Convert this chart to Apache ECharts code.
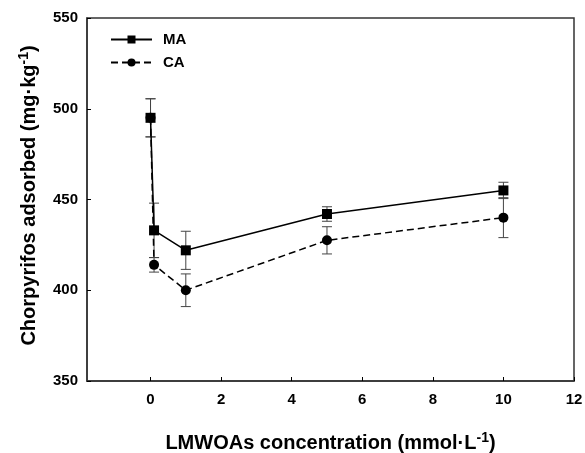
<!DOCTYPE html>
<html><head><meta charset="utf-8">
<script src="https://cdn.jsdelivr.net/npm/echarts@6/dist/echarts.min.js"></script>
<style>html,body{margin:0;padding:0;background:#fff}#c{width:585px;height:453px}</style>
</head><body><div id="c"></div>
<script>
const xValues = [0, 0.1, 1, 5, 10];
const maValues = [495, 433, 422, 442, 455];
const maErrors = [10.5, 15, 10.5, 4, 4.5];
const caValues = [495, 414, 400, 427.5, 440];
const caErrors = [10.5, 4, 9, 7.5, 11];
const xTicks = [0, 2, 4, 6, 8, 10, 12];
const yTicks = [350, 400, 450, 500, 550];

const font = '"Liberation Sans", Arial, sans-serif';
const chart = echarts.init(document.getElementById('c'));

function pairs(xs, ys) { return xs.map((x, i) => [x, ys[i]]); }
function errData(xs, ys, es) { return xs.map((x, i) => [x, ys[i] - es[i], ys[i] + es[i]]); }
function errSeries(data) {
  return {
    type: 'custom', silent: true, z: 1,
    renderItem: function (params, api) {
      const x = api.value(0);
      const lo = api.coord([x, api.value(1)]);
      const hi = api.coord([x, api.value(2)]);
      const w = 5;
      const st = { stroke: '#444', lineWidth: 1 };
      return { type: 'group', children: [
        { type: 'line', shape: { x1: hi[0], y1: hi[1], x2: lo[0], y2: lo[1] }, style: st },
        { type: 'line', shape: { x1: hi[0] - w, y1: hi[1], x2: hi[0] + w, y2: hi[1] }, style: st },
        { type: 'line', shape: { x1: lo[0] - w, y1: lo[1], x2: lo[0] + w, y2: lo[1] }, style: st }
      ]};
    },
    encode: { x: 0, y: [1, 2] },
    data: data
  };
}

const richName = {
  a: { fontFamily: font, fontWeight: 'bold', fontSize: 20, color: '#000' },
  s: { fontFamily: font, fontWeight: 'bold', fontSize: 14, color: '#000', verticalAlign: 'top', padding: [0, 0, 10, 0] }
};

chart.setOption({
  animation: false,
  grid: { left: 87, right: 11, top: 18, bottom: 72, show: true, borderColor: '#333', borderWidth: 1.5,
          containLabel: false, outerBoundsMode: 'none' },
  legend: {
    orient: 'vertical', left: 105, top: 27, itemWidth: 41, itemHeight: 10, itemGap: 8,
    textStyle: { fontFamily: font, fontWeight: 'bold', fontSize: 15, color: '#000', padding: [0, 0, 0, 6] },
    data: ['MA', 'CA']
  },
  xAxis: {
    type: 'value', min: -1.8, max: 12,
    axisLine: { show: true, onZero: false, lineStyle: { color: '#333', width: 1.5 } },
    axisTick: { show: true, inside: true, length: 4, customValues: xTicks, lineStyle: { color: '#000' } },
    axisLabel: { customValues: xTicks, margin: 11, fontFamily: font, fontWeight: 'bold', fontSize: 15, color: '#000' },
    splitLine: { show: false },
    name: '{a|LMWOAs concentration (mmol·L}{s|-1}{a|)}',
    nameLocation: 'middle', nameGap: 50,
    nameTextStyle: { rich: richName }
  },
  yAxis: {
    type: 'value', min: 350, max: 550, interval: 50,
    axisLine: { show: true, onZero: false, lineStyle: { color: '#333', width: 1.5 } },
    axisTick: { show: true, inside: true, length: 4, lineStyle: { color: '#000' } },
    axisLabel: { margin: 9, fontFamily: font, fontWeight: 'bold', fontSize: 15, color: '#000' },
    splitLine: { show: false },
    name: '{a|Chorpyrifos adsorbed (mg·kg}{s|-1}{a|)}',
    nameLocation: 'middle', nameGap: 46, nameRotate: 90,
    nameTextStyle: { rich: richName, padding: [0, 0, 0, 8] }
  },
  series: [
    errSeries(errData(xValues, maValues, maErrors)),
    errSeries(errData(xValues, caValues, caErrors)),
    { name: 'MA', type: 'line', z: 3, data: pairs(xValues, maValues), symbol: 'rect', symbolSize: 10,
      lineStyle: { color: '#000', width: 1.5, type: 'solid' }, itemStyle: { color: '#000' } },
    { name: 'CA', type: 'line', z: 3, data: pairs(xValues, caValues), symbol: 'circle', symbolSize: 10,
      lineStyle: { color: '#000', width: 1.5, type: [7, 4] }, itemStyle: { color: '#000' } }
  ]
});
</script></body></html>
